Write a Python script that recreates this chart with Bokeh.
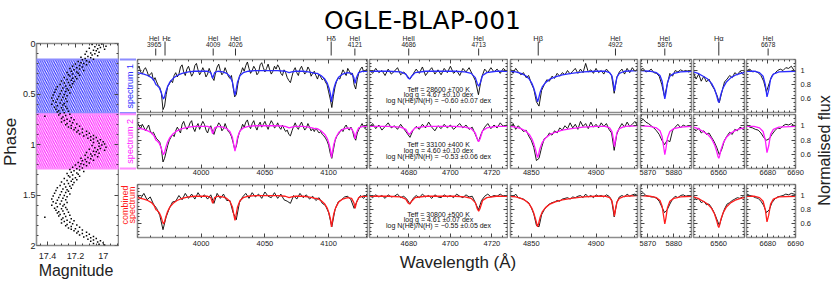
import numpy as np
from bokeh.plotting import figure
from bokeh.layouts import row, column
from bokeh.models import Range1d, LinearAxis, FixedTicker, CustomJSTickFormatter, Label
from bokeh.core.properties import value
from bokeh.embed import file_html
from bokeh.resources import INLINE

FONT = "Liberation Sans"
TITLE_FONT = "DejaVu Sans"
BLUE = "#2b2bff"
MAGENTA = "#ff1cff"
RED = "#ff1c1c"
BLUE_EDGE = "#8c8cff"
MAGENTA_EDGE = "#ff8cff"
FRAME = "#8c8c8c"
TICK = "#444444"

TITLE = "OGLE-BLAP-001"

# ---------------- light curve (phase, magnitude), one cycle ----------------
LIGHT_CURVE = [
    (0.004, 17.01), (0.011, 17.08), (0.017, 17.03), (0.026, 16.98), (0.031, 17.06), (0.039, 17.02), (0.046, 17.10),
    (0.052, 17.04), (0.058, 16.99), (0.067, 17.07), (0.073, 17.05), (0.080, 17.12), (0.086, 17.03), (0.094, 17.09),
    (0.101, 17.06), (0.107, 17.13), (0.114, 17.08), (0.122, 17.04), (0.128, 17.11), (0.135, 17.16), (0.141, 17.09),
    (0.149, 17.13), (0.156, 17.07), (0.162, 17.15), (0.170, 17.12), (0.177, 17.18), (0.183, 17.10), (0.190, 17.16),
    (0.198, 17.14), (0.204, 17.20), (0.211, 17.12), (0.219, 17.17), (0.226, 17.22), (0.232, 17.15), (0.240, 17.19),
    (0.247, 17.24), (0.253, 17.17), (0.259, 17.21), (0.268, 17.14), (0.274, 17.23), (0.281, 17.19), (0.288, 17.26),
    (0.294, 17.18), (0.301, 17.22), (0.309, 17.25), (0.315, 17.17), (0.322, 17.24), (0.330, 17.20), (0.336, 17.28),
    (0.343, 17.22), (0.350, 17.19), (0.357, 17.26), (0.364, 17.23), (0.371, 17.30), (0.377, 17.21), (0.385, 17.25),
    (0.392, 17.28), (0.398, 17.22), (0.406, 17.31), (0.413, 17.24), (0.420, 17.27), (0.427, 17.33), (0.434, 17.23),
    (0.441, 17.29), (0.448, 17.26), (0.455, 17.34), (0.462, 17.25), (0.469, 17.30), (0.476, 17.27), (0.483, 17.35),
    (0.490, 17.24), (0.497, 17.31), (0.504, 17.28), (0.511, 17.36), (0.518, 17.26), (0.525, 17.32), (0.532, 17.29),
    (0.539, 17.37), (0.546, 17.27), (0.553, 17.33), (0.560, 17.30), (0.567, 17.36), (0.574, 17.26), (0.581, 17.34),
    (0.588, 17.31), (0.595, 17.28), (0.602, 17.37), (0.609, 17.29), (0.616, 17.33), (0.623, 17.27), (0.630, 17.35),
    (0.637, 17.30), (0.644, 17.26), (0.651, 17.34), (0.658, 17.29), (0.665, 17.32), (0.672, 17.25), (0.679, 17.33),
    (0.686, 17.28), (0.693, 17.31), (0.700, 17.24), (0.707, 17.32), (0.714, 17.27), (0.721, 17.42), (0.728, 17.29),
    (0.735, 17.23), (0.742, 17.30), (0.749, 17.26), (0.756, 17.21), (0.763, 17.28), (0.770, 17.24), (0.777, 17.30),
    (0.784, 17.22), (0.791, 17.26), (0.798, 17.19), (0.805, 17.27), (0.812, 17.23), (0.819, 17.17), (0.826, 17.25),
    (0.833, 17.20), (0.840, 17.23), (0.847, 17.15), (0.854, 17.21), (0.861, 17.18), (0.868, 17.12), (0.875, 17.19),
    (0.882, 17.15), (0.889, 17.10), (0.896, 17.17), (0.903, 17.12), (0.910, 17.07), (0.917, 17.14), (0.924, 17.09),
    (0.931, 17.05), (0.938, 17.11), (0.945, 17.07), (0.952, 17.02), (0.959, 17.09), (0.966, 17.04), (0.973, 17.00),
    (0.980, 17.07), (0.987, 17.03), (0.994, 16.99),
]
PHASE_RANGE = (2.0, 0.0)
MAG_RANGE = (17.48, 16.89)
PHASE_MAJOR = [0, 0.5, 1, 1.5, 2]
MAG_MAJOR = [17.4, 17.2, 17.0]

# phase ranges of the two spectra
BAND_NAMES = ["spectrum 1", "spectrum 2"]
BAND_LO = [0.158, 0.700]
BAND_HI = [0.688, 1.238]
BAND_COLORS = [BLUE, MAGENTA]
BAND_EDGES = [BLUE_EDGE, MAGENTA_EDGE]
COMBINED_LABEL = ["combined", "spectrum"]

# ---------------- spectra ----------------
PANEL_LO = [3950, 4661, 4834, 5867.5, 6540.5, 6672.3]
PANEL_HI = [4130.5, 4727.5, 4932, 5886.6, 6580, 6690]
PANEL_MAJOR = [[4000, 4050, 4100], [4680, 4700, 4720], [4850, 4900], [5870, 5880], [6560, 6580], [6680, 6690]]
PANEL_MINOR_STEP = [10, 5, 10, 2, 5, 2]
FLUX_RANGE = (0.41, 1.155)
FLUX_MAJOR = [0.6, 0.8, 1.0]

OBS_START = [3950, 4661, 4834, 5867.5, 6540.5, 6672.5]
# sampling step per row (spectrum 1, spectrum 2, combined) and panel
OBS_STEP = [
    [1.25, 1.5, 2, 1, 2, 1],
    [1.25, 1.5, 2, 1, 2, 1],
    [2.5, 1.5, 2, 1, 2, 1],
]

OBS_SPEC1 = [
    [1.03, 1.06, 0.98, 0.95, 1.01, 1.04, 0.99, 0.92,
     0.95, 0.97, 0.86, 0.90, 0.84, 0.79, 0.76, 0.68,
     0.45, 0.50, 0.66, 0.78, 0.81, 0.86, 0.83, 0.93,
     0.97, 0.91, 0.95, 1.05, 1.08, 0.98, 0.93, 1.02,
     1.06, 0.99, 0.92, 0.96, 1.07, 1.10, 1.01, 0.94,
     0.98, 1.04, 0.99, 0.91, 0.95, 1.03, 0.97, 0.90,
     0.86, 0.97, 1.05, 1.09, 1.00, 0.94, 0.97, 1.04,
     0.98, 0.92, 0.89, 0.93, 0.77, 0.63, 0.66, 0.81,
     0.92, 0.97, 1.04, 0.99, 1.07, 1.12, 1.03, 0.96,
     1.00, 1.06, 1.02, 0.94, 0.97, 1.08, 1.11, 1.04,
     0.98, 1.03, 1.09, 1.01, 0.95, 0.99, 1.06, 1.02,
     1.08, 1.04, 0.96, 0.93, 1.01, 0.97, 0.90, 0.86,
     0.83, 0.92, 1.00, 1.04, 0.97, 0.93, 1.02, 1.06,
     1.00, 0.95, 0.98, 1.05, 1.01, 0.92, 0.96, 0.99,
     0.93, 0.88, 0.95, 0.91, 0.87, 0.89, 0.84, 0.80,
     0.70, 0.60, 0.48, 0.64, 0.77, 0.85, 0.90, 0.88,
     0.95, 1.01, 0.97, 0.93, 1.03, 0.99, 0.94, 0.96,
     0.80, 0.74, 0.88, 0.97, 1.02, 1.05, 0.98, 1.00,
     1.02],
    [1.01, 0.96, 1.03, 0.97, 1.00, 0.93, 1.02, 0.95, 0.99, 1.04, 0.94, 0.98, 0.93, 0.88, 0.95, 1.02, 0.96, 1.05, 0.93, 0.99,
     1.04, 0.95, 1.01, 0.94, 1.03, 0.97, 1.06, 0.96, 1.00, 0.93, 1.03, 0.98, 1.04, 0.95, 0.86, 0.66, 0.90, 1.02, 0.97, 1.04,
     0.98, 1.02, 0.96, 1.03, 0.99],
    [1.02, 0.96, 1.03, 0.98, 0.94, 0.97, 0.90, 0.93, 0.82, 0.74, 0.56, 0.50, 0.72, 0.80, 0.87, 0.85, 0.92, 0.89, 0.96, 0.92,
     0.97, 0.94, 1.00, 0.95, 0.99, 1.03, 0.96, 1.02, 0.97, 1.10, 0.98, 1.01, 0.96, 1.03, 0.97, 1.00, 0.95, 1.02, 0.98, 0.93,
     0.68, 0.90, 0.98, 1.02, 0.95, 1.03, 0.97, 1.04, 0.99, 1.02],
    [1.01, 1.03, 0.98, 0.99, 1.02, 0.97, 0.96, 0.92, 0.80, 0.63, 0.80, 0.96, 0.92, 1.00, 0.98, 1.01, 0.99, 1.00, 0.98, 0.99],
    [0.97, 0.88, 0.95, 0.85, 0.92, 0.84, 0.88, 0.80, 0.74, 0.66, 0.55, 0.70, 0.84, 0.88, 0.93, 0.90, 0.97, 0.94, 0.99, 0.96, 1.00],
    [1.00, 1.02, 0.98, 0.99, 0.97, 0.93, 0.85, 0.70, 0.82, 0.93, 0.96, 1.00, 1.02, 1.00, 1.04, 1.03, 1.06, 1.00, 0.98],
]
OBS_SPEC2 = [
    [1.04, 1.00, 0.96, 1.02, 0.98, 0.93, 0.97, 1.01,
     0.93, 0.89, 0.91, 0.86, 0.82, 0.80, 0.77, 0.68,
     0.50, 0.55, 0.64, 0.73, 0.80, 0.84, 0.88, 0.85,
     0.93, 0.98, 0.94, 0.90, 1.02, 1.06, 0.99, 0.95,
     0.98, 1.04, 1.07, 0.97, 0.92, 0.99, 1.03, 0.95,
     1.01, 1.06, 1.02, 0.94, 0.90, 0.97, 1.00, 0.93,
     0.88, 0.95, 0.99, 1.04, 1.01, 0.93, 0.96, 1.03,
     0.97, 0.92, 0.90, 0.85, 0.77, 0.68, 0.71, 0.83,
     0.91, 0.95, 1.02, 0.98, 1.05, 1.08, 1.00, 0.96,
     1.03, 1.07, 0.99, 0.94, 1.01, 1.05, 0.98, 1.02,
     1.06, 1.00, 0.95, 1.02, 1.07, 1.03, 0.97, 0.99,
     1.04, 0.98, 0.95, 1.01, 0.96, 0.92, 0.94, 0.88,
     0.86, 0.93, 0.99, 1.04, 0.98, 0.95, 1.01, 1.05,
     0.99, 0.94, 0.97, 1.03, 0.98, 0.93, 0.96, 0.92,
     0.97, 0.93, 0.90, 0.92, 0.88, 0.86, 0.83, 0.79,
     0.73, 0.62, 0.55, 0.67, 0.79, 0.85, 0.88, 0.91,
     0.95, 0.92, 0.98, 1.01, 0.96, 0.94, 0.98, 0.93,
     0.84, 0.80, 0.90, 0.95, 0.99, 1.03, 0.98, 0.96,
     1.02],
    [0.98, 1.03, 0.96, 1.01, 0.94, 0.99, 1.04, 0.97, 1.00, 0.95, 1.02, 0.96, 0.90, 0.84, 0.94, 0.99, 0.95, 1.02, 0.97, 1.05,
     0.98, 0.93, 1.00, 0.96, 1.02, 0.97, 1.01, 0.95, 0.99, 1.03, 0.97, 1.01, 0.95, 0.98, 0.88, 0.78, 0.90, 0.98, 1.03, 0.96,
     1.01, 0.97, 1.04, 0.99, 1.01],
    [0.99, 1.03, 0.95, 1.00, 0.96, 0.92, 0.94, 0.86, 0.80, 0.70, 0.52, 0.55, 0.70, 0.82, 0.84, 0.90, 0.87, 0.93, 0.90, 0.97,
     0.94, 1.00, 0.96, 1.04, 0.97, 1.02, 0.95, 1.06, 0.99, 1.03, 0.96, 1.05, 0.98, 1.02, 0.97, 1.04, 0.99, 1.03, 0.95, 0.90,
     0.66, 0.88, 0.97, 1.03, 0.98, 1.05, 0.99, 1.02, 1.06, 1.00],
    [1.06, 1.09, 1.05, 1.03, 1.00, 0.97, 0.93, 0.88, 0.80, 0.74, 0.80, 0.78, 0.93, 0.98, 1.02, 0.97, 1.01, 0.99, 1.00, 0.98],
    [0.96, 0.93, 0.97, 0.90, 0.93, 0.88, 0.90, 0.84, 0.78, 0.70, 0.60, 0.68, 0.80, 0.86, 0.91, 0.88, 0.95, 0.93, 0.98, 0.96, 0.99],
    [1.01, 0.98, 0.97, 0.95, 0.94, 0.90, 0.84, 0.80, 0.82, 0.88, 0.93, 0.97, 0.96, 1.00, 1.02, 1.01, 1.03, 1.00, 0.99],
]
OBS_COMBINED = [
    [1.00, 0.96, 1.03, 0.94, 0.98, 0.88, 0.82, 0.72, 0.52, 0.70, 0.82, 0.91, 0.92, 1.00, 0.94, 1.03, 0.96, 1.02, 0.95, 1.04,
     0.97, 1.01, 0.95, 1.01, 0.89, 1.03, 0.96, 1.02, 0.93, 0.93, 0.76, 0.66, 0.90, 0.98, 1.03, 0.96, 1.04, 0.98, 1.02, 0.96,
     1.05, 0.99, 0.97, 1.04, 0.96, 1.02, 0.94, 0.92, 0.89, 1.00, 0.95, 1.03, 0.97, 1.01, 0.95, 0.99, 0.93, 0.97, 0.89, 0.86,
     0.76, 0.56, 0.80, 0.91, 0.94, 0.98, 0.99, 0.94, 0.82, 0.93, 1.00, 0.96, 1.02],
    [1.00, 0.97, 1.01, 0.98, 1.00, 0.96, 1.01, 0.98, 0.99, 1.02, 0.97, 0.99, 0.95, 0.88, 0.96, 1.00, 0.97, 1.02, 0.98, 1.00,
     0.96, 1.01, 0.98, 0.97, 1.01, 0.98, 1.00, 0.97, 1.02, 0.99, 0.97, 1.01, 0.98, 0.99, 0.90, 0.80, 0.93, 0.99, 1.02, 0.98,
     1.00, 0.99, 1.02, 0.99, 1.00],
    [1.00, 0.98, 1.02, 0.97, 0.96, 0.95, 0.92, 0.90, 0.83, 0.74, 0.58, 0.56, 0.73, 0.80, 0.85, 0.88, 0.90, 0.91, 0.93, 0.92,
     0.95, 0.96, 0.97, 0.95, 0.98, 0.97, 0.99, 1.00, 0.97, 1.02, 0.98, 1.00, 0.97, 1.01, 0.99, 1.00, 0.98, 1.01, 0.99, 0.94,
     0.70, 0.90, 0.98, 1.00, 0.98, 1.02, 0.99, 1.01, 1.02, 1.00],
    [1.02, 1.04, 1.00, 0.99, 0.98, 0.98, 0.96, 0.92, 0.84, 0.76, 0.80, 0.88, 0.95, 0.99, 0.97, 1.00, 1.01, 0.99, 1.00, 1.00],
    [0.99, 0.94, 0.96, 0.90, 0.92, 0.87, 0.88, 0.83, 0.76, 0.67, 0.58, 0.70, 0.81, 0.88, 0.90, 0.93, 0.95, 0.97, 0.96, 0.98, 0.97],
    [1.02, 1.00, 0.99, 0.97, 0.96, 0.92, 0.86, 0.76, 0.80, 0.90, 0.95, 0.98, 0.99, 1.00, 1.02, 1.01, 1.03, 1.02, 1.00],
]

# model spectra: (wavelength, flux)
MODEL_P1 = [
    (3950, 0.97), (3955, 0.95), (3958, 0.93), (3961, 0.90), (3963, 0.86), (3964.5, 0.80), (3965.5, 0.79),
    (3967, 0.76), (3968.5, 0.70), (3969.5, 0.64), (3970.4, 0.60), (3971.2, 0.63), (3972.2, 0.70), (3973.5, 0.77),
    (3975.5, 0.84), (3978, 0.89), (3981, 0.93), (3985, 0.96), (3990, 0.98), (3995, 0.99), (4000, 0.99),
    (4005, 0.99), (4007.5, 0.97), (4009, 0.89), (4010.5, 0.97), (4013, 0.99), (4017, 0.98), (4020, 0.96),
    (4022.5, 0.92), (4024.5, 0.84), (4025.7, 0.72), (4026.5, 0.65), (4027.3, 0.72), (4028.5, 0.84),
    (4030.5, 0.93), (4033, 0.97), (4037, 0.99), (4042, 1.00), (4050, 1.00), (4060, 1.00), (4066, 0.99),
    (4069, 0.97), (4071, 0.98), (4074, 0.99), (4080, 0.99), (4084, 0.98), (4087, 0.97), (4089, 0.96),
    (4091, 0.96), (4094, 0.93), (4097, 0.88), (4099, 0.82), (4100.5, 0.74), (4101.5, 0.66), (4102.2, 0.56),
    (4103, 0.64), (4104, 0.74), (4105.5, 0.83), (4108, 0.91), (4111, 0.95), (4115, 0.97), (4118, 0.96),
    (4119.8, 0.90), (4120.8, 0.82), (4121.8, 0.90), (4123.5, 0.97), (4127, 0.99), (4130.5, 0.99),
]
MODEL_P2 = [
    (4661, 0.99), (4670, 0.99), (4676, 0.98), (4678.5, 0.95), (4679.5, 0.90), (4680.3, 0.88), (4681.3, 0.92),
    (4683, 0.97), (4688, 0.99), (4695, 0.99), (4702, 0.99), (4707, 0.98), (4710, 0.96), (4712, 0.90),
    (4713, 0.81), (4713.6, 0.78), (4714.3, 0.82), (4715.5, 0.93), (4717.5, 0.97), (4722, 0.99), (4727.5, 0.99),
]
MODEL_P3 = [
    (4834, 0.99), (4838, 0.98), (4842, 0.96), (4845.5, 0.93), (4848.5, 0.88), (4850.5, 0.82), (4852, 0.75),
    (4853.3, 0.67), (4854.3, 0.60), (4854.9, 0.56), (4855.6, 0.60), (4856.8, 0.69), (4858.5, 0.77),
    (4861, 0.83), (4864.5, 0.88), (4868.5, 0.91), (4874, 0.94), (4881, 0.96), (4890, 0.98), (4900, 0.99),
    (4907, 0.99), (4910.5, 0.97), (4912.3, 0.92), (4913.4, 0.82), (4914.2, 0.71), (4915, 0.80),
    (4916.2, 0.91), (4918, 0.96), (4922, 0.99), (4932, 1.00),
]
MODEL_P4 = [
    (5867.5, 1.00), (5871, 0.99), (5873.5, 0.97), (5874.8, 0.93), (5875.6, 0.85), (5876.2, 0.70), (5876.6, 0.60),
    (5877.0, 0.68), (5877.6, 0.83), (5878.5, 0.92), (5880, 0.96), (5882.5, 0.98), (5886.6, 0.99),
]
MODEL_P5 = [
    (6540.5, 0.98), (6544, 0.96), (6548, 0.92), (6551.5, 0.88), (6554.5, 0.82), (6556.8, 0.74), (6558.4, 0.65),
    (6559.4, 0.58), (6560.1, 0.55), (6560.8, 0.59), (6561.8, 0.67), (6563.5, 0.76), (6566, 0.84),
    (6569.5, 0.90), (6573.5, 0.94), (6577, 0.96), (6580, 0.97),
]
MODEL_P6 = [
    (6672.3, 0.99), (6675, 0.99), (6677, 0.97), (6678.3, 0.92), (6679.1, 0.80), (6679.7, 0.63), (6680.3, 0.72),
    (6681, 0.88), (6682, 0.95), (6684, 0.98), (6690, 0.99),
]
MODELS = [MODEL_P1, MODEL_P2, MODEL_P3, MODEL_P4, MODEL_P5, MODEL_P6]

ROW_OBS = [OBS_SPEC1, OBS_SPEC2, OBS_COMBINED]
ROW_COLORS = [BLUE, MAGENTA, RED]
ROW_PARAMS = [
    ["Teff = 28600 ±700 K", "log g = 4.67 ±0.10 dex", "log N(He)/N(H) = −0.60 ±0.07 dex"],
    ["Teff = 33100 ±400 K", "log g = 4.60 ±0.10 dex", "log N(He)/N(H) = −0.53 ±0.06 dex"],
    ["Teff = 30800 ±500 K", "log g = 4.61 ±0.07 dex", "log N(He)/N(H) = −0.55 ±0.05 dex"],
]

# line identifications: (panel, marker wavelength, name, label, label nudge in px)
LINES = [
    (0, 3964.3, "HeI", "3965", -1.5), (0, 3971.6, "Hε", "", 1.5), (0, 4009.4, "HeI", "4009", 0),
    (0, 4026.9, "HeI", "4026", 0), (0, 4102.0, "Hδ", "", 0), (0, 4120.6, "HeI", "4121", 0),
    (1, 4679.9, "HeII", "4686", 0), (1, 4713.6, "HeI", "4713", 0), (2, 4855.4, "Hβ", "", 0),
    (2, 4915.0, "HeI", "4922", 0), (3, 5876.6, "HeI", "5876", 0), (4, 6560.1, "Hα", "", 0),
    (5, 6679.8, "HeI", "6678", 0),
]

# ---------------- layout (pixels) ----------------
P_W = [232, 140, 131, 53, 53, 68]
P_BL = [1, 1, 2, 1, 1, 1]
P_BR = [1, 1, 2, 1, 1, 16]
MID_W = sum(P_W)
ROW_H = [55, 70, 67]
ROW_BB = [1, 15, 13]
ROW_STANDOFF = [None, 1, 3]


def fmt():
    return CustomJSTickFormatter(code="var s = tick.toFixed(2); return s.replace(/0+$/, '').replace(/\\.$/, '');")


def base_fig(width, height, xr, yr, bl=0, br=0, bt=0, bb=0):
    f = figure(width=width, height=height, x_range=xr, y_range=yr, toolbar_location=None,
               output_backend="svg", x_axis_location=None, y_axis_location=None, title=None,
               min_border=0, min_border_left=bl, min_border_right=br, min_border_top=bt, min_border_bottom=bb)
    f.outline_line_color = None
    f.background_fill_color = "white"
    f.border_fill_color = "white"
    f.grid.visible = False
    return f


def txt(f, x, y, texts, size, color="black", angle=0.0, align="center", baseline="middle",
        font=FONT, dx=0):
    f.text(x=x, y=y, text=texts, text_font=value(font), text_font_size=size, text_color=color,
           angle=angle, text_align=align, text_baseline=baseline, x_offset=dx)


def minor_list(lo, hi, step, major):
    start = np.ceil(lo / step) * step
    vals = np.arange(start, hi + 1e-9, step)
    return [float(round(v, 4)) for v in vals if all(abs(v - m) > 1e-6 for m in major)]


def inner_ticks(f, xr, yr, xmaj, xmin, ymaj, ymin, tin=4, tmin=2):
    specs = [("below", yr.start, xmaj, xmin), ("above", yr.end, xmaj, xmin),
             ("left", xr.start, ymaj, ymin), ("right", xr.end, ymaj, ymin)]
    for side, loc, maj, mn in specs:
        ax = LinearAxis(fixed_location=loc, ticker=FixedTicker(ticks=maj, minor_ticks=mn),
                        axis_line_color=None, major_label_text_color=None,
                        major_label_text_font_size="0px", major_label_standoff=0,
                        major_tick_in=tin, major_tick_out=0, minor_tick_in=tmin, minor_tick_out=0,
                        major_tick_line_color=TICK, minor_tick_line_color=TICK,
                        major_tick_line_width=1, minor_tick_line_width=1)
        f.add_layout(ax, side)


def label_axis(f, side, ticks, standoff, size="7.5px"):
    ax = LinearAxis(ticker=FixedTicker(ticks=ticks, minor_ticks=[]), formatter=fmt(),
                    axis_line_color=None, major_tick_in=0, major_tick_out=0,
                    minor_tick_in=0, minor_tick_out=0, major_label_standoff=standoff,
                    major_label_text_font=FONT, major_label_text_font_size=size,
                    major_label_text_color="#222222")
    f.add_layout(ax, side)


# ---------------- left: light curve ----------------
phase_r = Range1d(*PHASE_RANGE)
mag_r = Range1d(*MAG_RANGE)
lc_phase = [p for p, m in LIGHT_CURVE]
lc_mag = [m for p, m in LIGHT_CURVE]

lc = base_fig(100, 263, mag_r, phase_r, bl=14, br=1, bt=43, bb=18)
lc.outline_line_color = FRAME
lc.outline_line_width = 1.6
for lo, hi, col, edge in zip(BAND_LO, BAND_HI, BAND_COLORS, BAND_EDGES):
    lc.quad(left=[mag_r.start], right=[mag_r.end], top=[lo], bottom=[hi], fill_alpha=0,
            hatch_pattern="\\", hatch_color=col, hatch_scale=4.5, hatch_weight=1.1,
            line_color=edge, line_width=2)
lc.scatter(lc_mag + lc_mag, lc_phase + [p + 1 for p in lc_phase], size=1.5, marker="square",
           color="black", line_width=0)
inner_ticks(lc, mag_r, phase_r, MAG_MAJOR, minor_list(16.9, 17.48, 0.05, MAG_MAJOR),
            PHASE_MAJOR, minor_list(0, 2, 0.1, PHASE_MAJOR))
label_axis(lc, "below", MAG_MAJOR, 7, "9px")
label_axis(lc, "left", PHASE_MAJOR, 1, "9px")

strip_x = Range1d(0, 1)
strip = base_fig(17, 263, strip_x, phase_r, bt=43, bb=18)
for lo, hi, edge in zip(BAND_LO, BAND_HI, BAND_EDGES):
    strip.segment(x0=[strip_x.start] * 2, x1=[strip_x.end] * 2, y0=[lo, hi], y1=[lo, hi],
                  line_color=edge, line_width=2)
for name, lo, hi, col in zip(BAND_NAMES, BAND_LO, BAND_HI, BAND_COLORS):
    txt(strip, [0.62], [(lo + hi) / 2], [name], "9px", col, angle=np.pi / 2)
txt(strip, [0.3, 0.72], [1.6, 1.6], COMBINED_LABEL, "9px", RED, angle=np.pi / 2)

mag_lbl = base_fig(117, 18, mag_r, Range1d(0, 18), bl=14, br=18)
txt(mag_lbl, [(mag_r.start + mag_r.end) / 2], [11], ["Magnitude"], "16px", "#222222")

phase_lbl = base_fig(19, 281, Range1d(0, 19), Range1d(281, 0))
txt(phase_lbl, [9.5], [141.5], ["Phase"], "17px", "#222222", angle=np.pi / 2)

left_block = column(row(lc, strip), mag_lbl)

# ---------------- middle: spectra ----------------
XR = [Range1d(lo, hi) for lo, hi in zip(PANEL_LO, PANEL_HI)]
flux_r = Range1d(*FLUX_RANGE)
flux_minor = minor_list(0.41, 1.155, 0.05, FLUX_MAJOR)

title_fig = base_fig(MID_W, 34, Range1d(0, MID_W), Range1d(34, 0))
txt(title_fig, [286], [19.5], [TITLE], "25px", "black", font=TITLE_FONT)

headers = []
for i in range(6):
    h = base_fig(P_W[i], 24, XR[i], Range1d(0, 24), bl=P_BL[i], br=P_BR[i])
    ls = [l for l in LINES if l[0] == i]
    short = [l for l in ls if l[3]]
    greek = [l for l in ls if not l[3]]
    if short:
        xs = [l[1] for l in short]
        dxs = [l[4] for l in short]
        txt(h, xs, [20.5] * len(xs), [l[2] for l in short], "6.8px", "#222222", dx=dxs)
        txt(h, xs, [14.3] * len(xs), [l[3] for l in short], "6.5px", "#222222", dx=dxs)
        h.segment(x0=xs, x1=xs, y0=[3] * len(xs), y1=[10] * len(xs), line_color="#333333", line_width=1)
    if greek:
        xs = [l[1] for l in greek]
        dxs = [l[4] for l in greek]
        txt(h, xs, [20.5] * len(xs), [l[2] for l in greek], "7.5px", "#222222", dx=dxs)
        h.segment(x0=xs, x1=xs, y0=[3] * len(xs), y1=[17] * len(xs), line_color="#333333", line_width=1)
    headers.append(h)

rows = []
for r in range(3):
    figs = []
    for i in range(6):
        f = base_fig(P_W[i], ROW_H[r], XR[i], flux_r, bl=P_BL[i], br=P_BR[i], bt=1, bb=ROW_BB[r])
        f.outline_line_color = FRAME
        f.outline_line_width = 1.6
        obs = ROW_OBS[r][i]
        ox = [OBS_START[i] + OBS_STEP[r][i] * k for k in range(len(obs))]
        f.line(ox, obs, line_color="black", line_width=0.9)
        mx = [w for w, v in MODELS[i]]
        my = [v for w, v in MODELS[i]]
        f.line(mx, my, line_color=ROW_COLORS[r], line_width=1.3)
        inner_ticks(f, XR[i], flux_r, PANEL_MAJOR[i],
                    minor_list(PANEL_LO[i], PANEL_HI[i], PANEL_MINOR_STEP[i], PANEL_MAJOR[i]),
                    FLUX_MAJOR, flux_minor)
        if ROW_STANDOFF[r] is not None:
            inside = [t for t in PANEL_MAJOR[i] if t < PANEL_HI[i] - 1e-6 or i == 5]
            label_axis(f, "below", inside, ROW_STANDOFF[r])
            for t in PANEL_MAJOR[i]:
                if t not in inside:
                    f.add_layout(Label(x=t, y=flux_r.start, x_units="data", y_units="data", text=str(t),
                                       text_align="right", text_baseline="top", y_offset=-ROW_STANDOFF[r],
                                       text_font=FONT, text_font_size="7.5px", text_color="#222222"))
        if i == 5:
            label_axis(f, "right", FLUX_MAJOR, 5)
        if i == 1:
            xc = (PANEL_LO[1] + PANEL_HI[1]) / 2
            span = flux_r.end - flux_r.start
            ys = [flux_r.end - k * span for k in (0.557, 0.666, 0.774)]
            txt(f, [xc] * 3, ys, ROW_PARAMS[r], "7px", "#111111")
        figs.append(f)
    rows.append(row(*figs))

xlabel_fig = base_fig(MID_W, 31, Range1d(0, MID_W), Range1d(31, 0))
txt(xlabel_fig, [321.5], [12], ["Wavelength (Å)"], "17px", "#222222")

middle = column(title_fig, row(*headers), rows[0], rows[1], rows[2], xlabel_fig)

flux_lbl = base_fig(18, 281, Range1d(0, 18), Range1d(281, 0))
txt(flux_lbl, [10.5], [150], ["Normalised flux"], "16px", "#222222", angle=np.pi / 2)

layout = row(phase_lbl, left_block, middle, flux_lbl)

open("out.html", "w").write(file_html(layout, INLINE))
